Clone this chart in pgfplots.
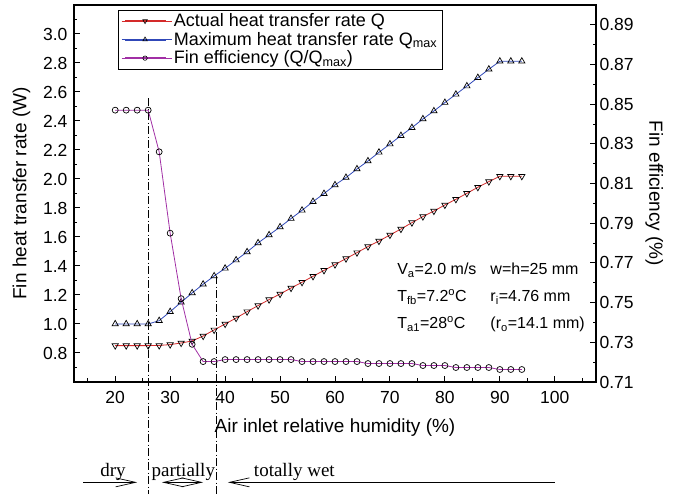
\documentclass[border=0pt]{standalone}
\usepackage{fontspec}
\setmainfont{Liberation Sans}
\newfontfamily\seriffont{Liberation Serif}
\usepackage{pgfplots}
\pgfplotsset{compat=1.18}
\usetikzlibrary{arrows.meta}
\definecolor{qred}{HTML}{D42A2A}
\definecolor{qblue}{HTML}{3048B8}
\definecolor{qpurple}{HTML}{A12FA5}

\pgfplotstableread{
x q qmax
20 0.851 1.000
22 0.851 1.000
24 0.851 1.000
26 0.851 1.000
28 0.852 1.023
30 0.858 1.085
32 0.869 1.150
34 0.883 1.214
36 0.917 1.274
38 0.959 1.331
40 1.000 1.384
42 1.041 1.441
44 1.085 1.497
46 1.127 1.559
48 1.168 1.614
50 1.207 1.669
52 1.248 1.727
54 1.288 1.784
56 1.329 1.844
58 1.370 1.899
60 1.410 1.959
62 1.451 2.010
64 1.492 2.069
66 1.534 2.124
68 1.572 2.184
70 1.614 2.241
72 1.655 2.299
74 1.699 2.354
76 1.741 2.414
78 1.779 2.469
80 1.821 2.527
82 1.860 2.584
84 1.901 2.641
86 1.943 2.699
88 1.982 2.757
90 2.019 2.812
92 2.019 2.812
94 2.019 2.812
}\heatdata

\pgfplotstableread{
x eff
20 0.8470
22 0.8470
24 0.8470
26 0.8470
28 0.8260
30 0.7850
32 0.7520
34 0.7290
36 0.7203
38 0.7203
40 0.7213
42 0.7213
44 0.7213
46 0.7213
48 0.7213
50 0.7213
52 0.7213
54 0.7203
56 0.7203
58 0.7203
60 0.7203
62 0.7203
64 0.7203
66 0.7193
68 0.7193
70 0.7193
72 0.7193
74 0.7193
76 0.7183
78 0.7183
80 0.7183
82 0.7173
84 0.7173
86 0.7173
88 0.7173
90 0.7163
92 0.7163
94 0.7163
}\effdata

\pgfplotsset{
  common/.style={
    scale only axis, width=522pt, height=377pt,
    xmin=12.5, xmax=107.5,
    tick label style={font=\fontsize{17.5}{20}\selectfont},
    label style={font=\fontsize{19}{22}\selectfont},
    /pgf/number format/assume math mode=true,
    major tick length=6pt, minor tick length=3.5pt,
    every tick/.style={black, line width=1pt},
    axis line style={line width=1.6pt},
    clip=false,
  },
}
\newcommand{\rowstrut}{\rule[-5.5pt]{0pt}{18.5pt}}

\begin{document}
\begin{tikzpicture}
\path[use as bounding box] (-74pt,-112pt) rectangle (603pt,382pt);

\begin{axis}[
  common,
  ymin=0.6, ymax=3.2,
  xtick={20,30,...,100},
  minor xtick={15,25,...,105},
  ytick={0.8,1.0,...,3.01},
  minor ytick={0.7,0.9,...,3.11},
  xtick pos=bottom, ytick pos=left,
  yticklabel style={xshift=-3pt, /pgf/number format/fixed, /pgf/number format/fixed zerofill, /pgf/number format/precision=1},
  xticklabel style={yshift=-6pt},
  xlabel={Air inlet relative humidity (\%)},
  xlabel style={yshift=-8pt},
  ylabel={Fin heat transfer rate (W)},
  ylabel style={yshift=6pt},
  legend style={at={(0.084,0.987)}, anchor=north west, draw=black, line width=0.8pt,
    font=\fontsize{18}{20}\selectfont, inner xsep=3pt, inner ysep=1.5pt},
  legend cell align=left,
  legend image code/.code={\path (0pt,0pt) -- (50pt,0pt);
    \fill[#1, draw=none] (3pt,-0.9pt) rectangle (44pt,0.9pt);
    \draw[#1, only marks] plot coordinates {(23.5pt,0pt)};},
]
\addplot[qblue, line width=0.8pt, mark=triangle, mark size=3.6pt,
  mark options={solid, fill=white, draw=black, line width=0.7pt}, forget plot] table[x=x, y=qmax] {\heatdata};
\addplot[qred, line width=0.8pt, mark=triangle, mark size=3.6pt,
  mark options={solid, fill=white, draw=black, line width=0.7pt, rotate=180}, forget plot] table[x=x, y=q] {\heatdata};

\addlegendimage{qred, line width=0.6pt, mark=triangle, mark size=2.6pt, mark options={rotate=180, fill=white, draw=black, line width=0.6pt}}
\addlegendentry{\rowstrut Actual heat transfer rate Q}
\addlegendimage{qblue, line width=0.6pt, mark=triangle, mark size=2.6pt, mark options={fill=white, draw=black, line width=0.6pt}}
\addlegendentry{\rowstrut Maximum heat transfer rate Q\textsubscript{max}\hspace{40pt}}
\addlegendimage{qpurple, line width=0.6pt, mark=o, mark size=2.2pt, mark options={fill=white, draw=black, line width=0.6pt}}
\addlegendentry{\rowstrut Fin efficiency (Q/Q\textsubscript{max})}

% region boundaries and labels under the axis
\draw[black, line width=0.7pt, dash pattern=on 8pt off 2.5pt on 1pt off 2.5pt]
  (axis cs:26,2.557) -- (axis cs:26,-0.17);
\draw[black, line width=0.7pt, dash pattern=on 8pt off 2.5pt on 1pt off 2.5pt]
  (axis cs:38.4,1.331) -- (axis cs:38.4,-0.17);
\node[anchor=base, font=\seriffont\fontsize{19}{22}\selectfont] at (axis cs:19.6,-0.05) {dry};
\node[anchor=base, font=\seriffont\fontsize{19}{22}\selectfont] at (axis cs:32.4,-0.05) {partially};
\node[anchor=base, font=\seriffont\fontsize{19}{22}\selectfont] at (axis cs:52.6,-0.05) {totally wet};
\draw[line width=0.7pt, -{Straight Barb[length=20pt,width=9pt]}] (axis cs:14.2,-0.092) -- (axis cs:24.0,-0.092);
\draw[line width=0.7pt, {Straight Barb[length=20pt,width=9pt]}-{Straight Barb[length=20pt,width=9pt]}] (axis cs:28.5,-0.092) -- (axis cs:36.0,-0.092);
\draw[line width=0.7pt, {Straight Barb[length=20pt,width=9pt]}-] (axis cs:40.5,-0.092) -- (axis cs:100,-0.092);

\node[anchor=north west, font=\fontsize{16}{19}\selectfont, inner sep=0pt, align=left] at (axis cs:71.3,1.435) {%
  \begin{tabular}{@{}l@{\hspace{14pt}}l@{}}
  V\textsubscript{a}=2.0 m/s & w=h=25 mm\\[8pt]
  T\textsubscript{fb}=7.2\textsuperscript{o}C & r\textsubscript{i}=4.76 mm\\[8pt]
  T\textsubscript{a1}=28\textsuperscript{o}C & (r\textsubscript{o}=14.1 mm)
  \end{tabular}};
\end{axis}

\begin{axis}[
  common,
  ymin=0.71, ymax=0.90,
  axis y line*=right, axis x line=none,
  ytick={0.71,0.73,...,0.891},
  minor ytick={0.72,0.74,...,0.881},
  yticklabel style={/pgf/number format/fixed, /pgf/number format/fixed zerofill, /pgf/number format/precision=2},
  ylabel={Fin efficiency (\%)},
  ylabel style={rotate=180, yshift=5pt},
]
\addplot[qpurple, line width=0.8pt, mark=o, mark size=3pt,
  mark options={solid, fill=white, draw=black, line width=0.7pt}] table[x=x, y=eff] {\effdata};
\end{axis}
\end{tikzpicture}
\end{document}
